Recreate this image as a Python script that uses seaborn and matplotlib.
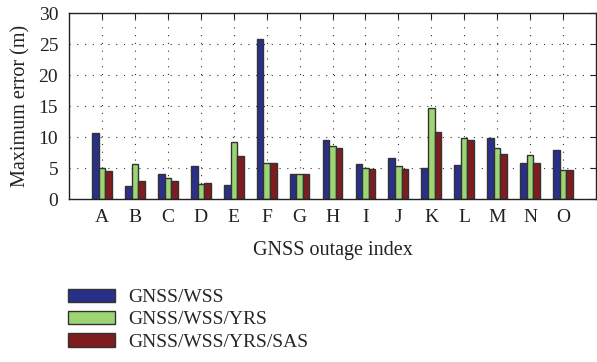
import matplotlib
matplotlib.use("Agg")
import matplotlib.pyplot as plt
import seaborn as sns
import pandas as pd
from matplotlib.patches import Patch

categories = list("ABCDEFGHIJKLMNO")
wss = [10.7, 2.1, 4.05, 5.3, 2.3, 25.8, 4.1, 9.6, 5.7, 6.7, 5.1, 5.5, 9.9, 5.9, 7.9]
wss_yrs = [5.0, 5.6, 3.35, 2.4, 9.2, 5.8, 4.1, 8.6, 5.1, 5.35, 14.7, 9.8, 8.2, 7.1, 4.75]
wss_yrs_sas = [4.5, 2.9, 3.0, 2.6, 6.9, 5.8, 4.1, 8.2, 4.9, 4.9, 10.8, 9.6, 7.3, 5.8, 4.65]
series_names = ["GNSS/WSS", "GNSS/WSS/YRS", "GNSS/WSS/YRS/SAS"]
colors = ["#29308A", "#9DD474", "#7F1C1F"]

df = pd.DataFrame({
    "cat": categories * 3,
    "val": wss + wss_yrs + wss_yrs_sas,
    "series": [series_names[0]] * 15 + [series_names[1]] * 15 + [series_names[2]] * 15,
})

sns.set_theme(style="white")
plt.rcParams["font.family"] = ["Liberation Serif", "DejaVu Serif"]

fig = plt.figure(figsize=(5.97, 3.62), dpi=100)
ax = fig.add_axes([0.116, 0.450, 0.882, 0.513])

sns.barplot(data=df, x="cat", y="val", hue="series", palette=colors,
            width=0.6, edgecolor="#333333", linewidth=1.0, ax=ax,
            legend=False, saturation=1)

ax.set_xlim(-1, 15)
ax.set_ylim(0, 30)
ax.set_yticks([0, 5, 10, 15, 20, 25, 30])
ax.grid(True, linestyle=(0, (1, 6)), color="#333333", linewidth=0.8)
ax.set_axisbelow(True)
for s in ax.spines.values():
    s.set_visible(True)
    s.set_color("#222222")
    s.set_linewidth(1.0)
ax.tick_params(direction="in", top=True, right=True, length=4, width=0.8,
               labelsize=14, color="#222222", labelcolor="#222222")
ax.tick_params(axis="x", pad=7)
ax.tick_params(axis="y", pad=8)
ax.set_xlabel("GNSS outage index", fontsize=14.5, color="#222222", labelpad=11)
ax.set_ylabel("Maximum error (m)", fontsize=14.5, color="#222222", labelpad=6)

handles = [Patch(facecolor=c, edgecolor="#333333", linewidth=1.0) for c in colors]
fig.legend(handles, series_names, loc="upper left", bbox_to_anchor=(0.114, 0.203),
           frameon=False, fontsize=14, handlelength=2.4, handleheight=0.67,
           labelspacing=0.26, handletextpad=0.67, borderaxespad=0, borderpad=0)

fig.savefig("out.png", dpi=100)
